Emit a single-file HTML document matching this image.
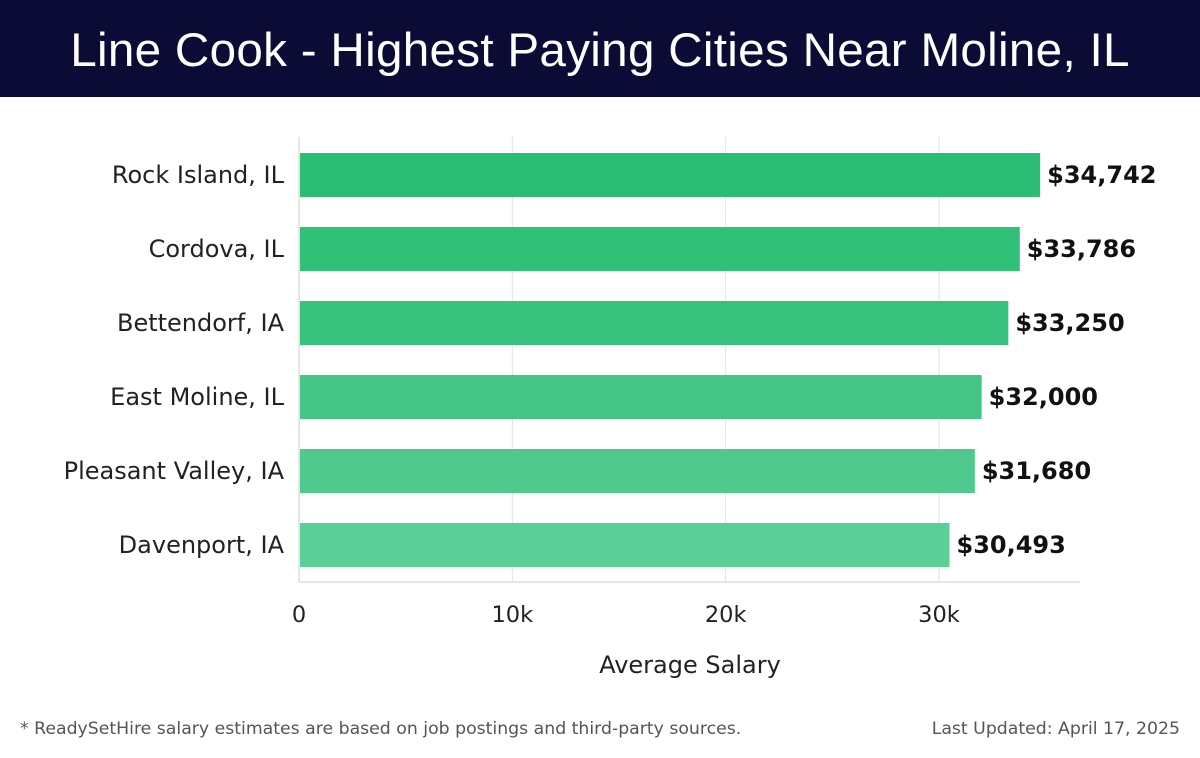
<!DOCTYPE html>
<html><head><meta charset="utf-8"><style>
body{margin:0;width:1200px;height:758px;background:#fff;overflow:hidden;font-family:"DejaVu Sans","Liberation Sans",sans-serif;}
#hdr{position:absolute;left:0;top:0;width:1200px;height:97px;background:#0b0c36;color:#fff;font-family:"Liberation Sans",sans-serif;font-size:47.6px;text-align:center;line-height:102px;font-weight:300;letter-spacing:0.3px;}
svg{position:absolute;left:0;top:0;}
.foot{position:absolute;top:719px;font-size:17.3px;color:#555;}
</style></head><body>
<div id="hdr">Line Cook - Highest Paying Cities Near Moline, IL</div>
<svg id="chart" width="1200" height="758"></svg>
<div class="foot" style="left:20px">* ReadySetHire salary estimates are based on job postings and third-party sources.</div>
<div class="foot" style="right:20px">Last Updated: April 17, 2025</div>
<script>
const categories=["Rock Island, IL","Cordova, IL","Bettendorf, IA","East Moline, IL","Pleasant Valley, IA","Davenport, IA"];
const values=[34742,33786,33250,32000,31680,30493];
const tickValues=[0,10000,20000,30000];
const tickLabels=["0","10k","20k","30k"];
const colors=["#2bbd74","#31c078","#37c27d","#46c686","#4fc98d","#5ccf98"];
const NS="http://www.w3.org/2000/svg";
const svg=document.getElementById('chart');
const x0=299,pxPer=(939-299)/30000,plotTop=137,plotBottom=582,plotRight=1080;
const xs=v=>x0+v*pxPer;
const bandY=i=>175+i*74;
function mk(t,a){const e=document.createElementNS(NS,t);for(const k in a)e.setAttribute(k,a[k]);svg.appendChild(e);return e;}
tickValues.forEach((v,i)=>{
 const g=mk('line',{x1:xs(v),x2:xs(v),y1:plotTop,y2:plotBottom,stroke:'#e2e2e2','stroke-width':1});
 
 
 const t=mk('text',{x:xs(v),y:622,'text-anchor':'middle','font-size':22.5,fill:'#222'});
 t.textContent=tickLabels[i];
 
 
});
const ax=mk('line',{x1:x0,x2:plotRight,y1:plotBottom,y2:plotBottom,stroke:'#ccc','stroke-width':1});


const ay=mk('line',{x1:x0,x2:x0,y1:plotTop,y2:plotBottom,stroke:'#ccc','stroke-width':1});


categories.forEach((c,i)=>{
 const cy=bandY(i);
 const r=mk('rect',{x:x0+1,y:cy-22,width:xs(values[i])-x0-1,height:44,fill:colors[i]});
 
 
 const l=mk('text',{x:284,y:cy+8,'text-anchor':'end','font-size':24,fill:'#222'});
 l.textContent=c;
 
 
 const v=mk('text',{x:xs(values[i])+7,y:cy+8,'font-size':24,'font-weight':'bold',fill:'#111'});
 v.textContent='$'+values[i].toLocaleString('en-US');
 
 
});
const at=mk('text',{x:690,y:673,'text-anchor':'middle','font-size':24,fill:'#222'});
at.textContent='Average Salary';


</script>
</body></html>
